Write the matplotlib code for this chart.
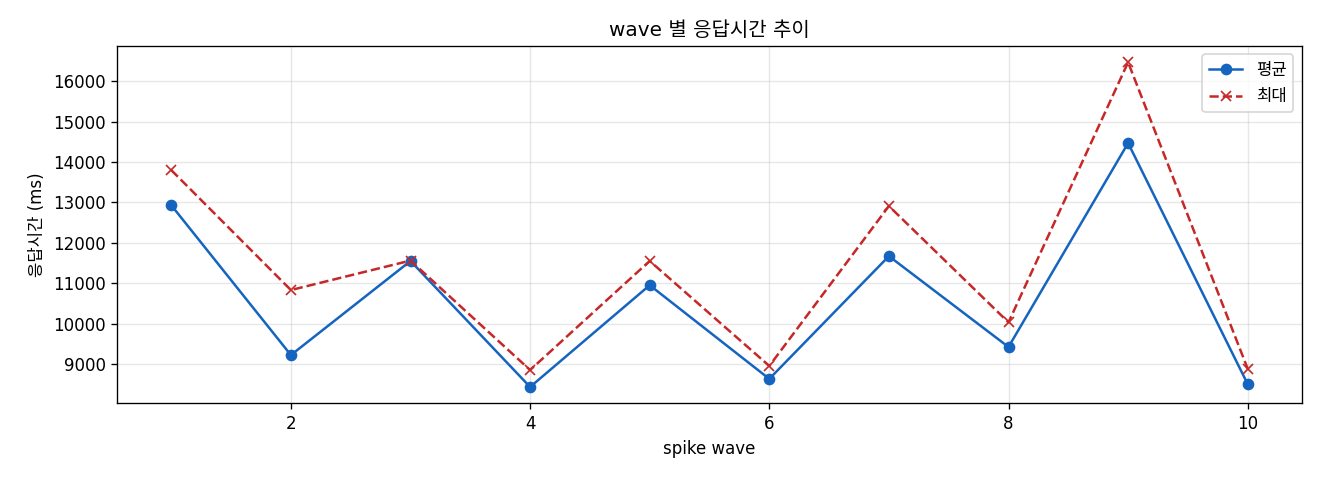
import matplotlib.pyplot as plt

plt.rcParams['font.family'] = ['DejaVu Sans', 'Noto Sans CJK KR']
plt.rcParams['axes.unicode_minus'] = False

waves = [1, 2, 3, 4, 5, 6, 7, 8, 9, 10]
avg_ms = [12930, 9220, 11550, 8430, 10950, 8630, 11670, 9420, 14470, 8500]
max_ms = [13800, 10830, 11560, 8850, 11550, 8950, 12910, 10030, 16470, 8880]

fig, ax = plt.subplots(figsize=(11, 4), dpi=120)
ax.plot(waves, avg_ms, marker='o', color='#1565C0', label='평균')
ax.plot(waves, max_ms, marker='x', linestyle='--', color='#C62828', label='최대')
ax.set_title('wave 별 응답시간 추이')
ax.set_xlabel('spike wave')
ax.set_ylabel('응답시간 (ms)')
ax.grid(True, alpha=0.3)
ax.legend(loc='upper right')

fig.subplots_adjust(left=0.089, right=0.986, top=0.904, bottom=0.16)
plt.savefig('out.png')
